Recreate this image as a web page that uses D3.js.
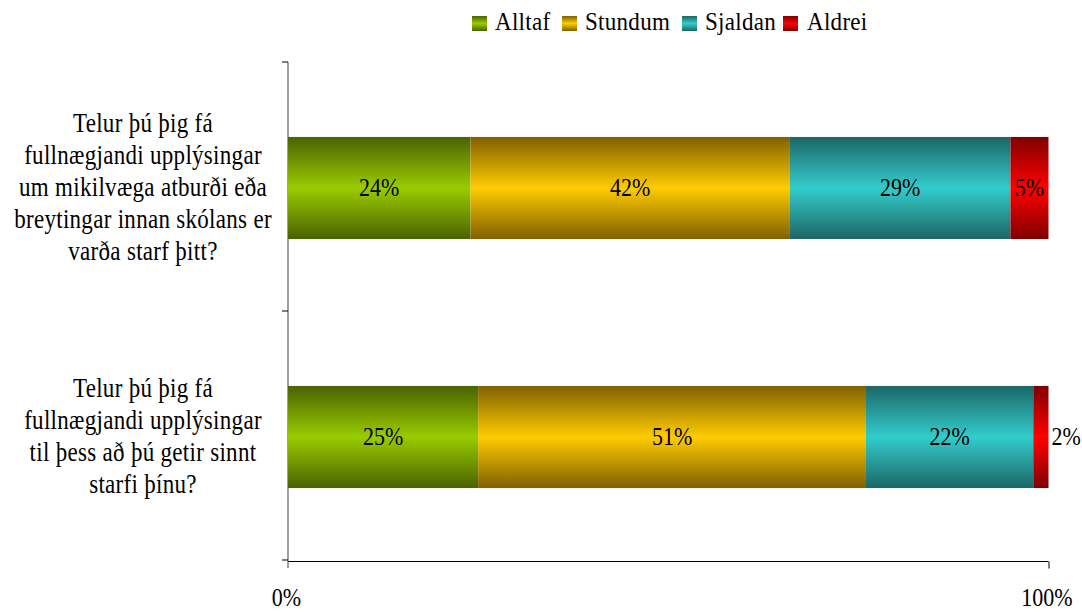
<!DOCTYPE html>
<html><head><meta charset="utf-8">
<script src="https://cdn.jsdelivr.net/npm/d3@7"></script>
<style>body{margin:0;background:#fff}svg{display:block}text{font-family:"Liberation Serif","Times New Roman",serif;fill:#000}</style>
</head><body>
<script>
const categories = [
  ["Telur þú þig fá","fullnægjandi upplýsingar","um mikilvæga atburði eða","breytingar innan skólans er","varða starf þitt?"],
  ["Telur þú þig fá","fullnægjandi upplýsingar","til þess að þú getir sinnt","starfi þínu?"]
];
const seriesNames = ["Alltaf","Stundum","Sjaldan","Aldrei"];
const alltaf = [24, 25];
const stundum = [42, 51];
const sjaldan = [29, 22];
const aldrei = [5, 2];
const tickLabels = ["0%","100%"];
const seriesValues = [alltaf, stundum, sjaldan, aldrei];
const colorsMid = ["#99cc00","#ffcc00","#33cccc","#ff0000"];
const colorsEdge = ["#4a6200","#7f6000","#1d6666","#800000"];

const W=1082,H=612;
const svg=d3.select("body").append("svg").attr("width",W).attr("height",H);
const defs=svg.append("defs");
seriesNames.forEach((n,i)=>{
  const g=defs.append("linearGradient").attr("id","g"+i).attr("x1",0).attr("y1",0).attr("x2",0).attr("y2",1);
  g.append("stop").attr("offset","0%").attr("stop-color",colorsEdge[i]);
  g.append("stop").attr("offset","50%").attr("stop-color",colorsMid[i]);
  g.append("stop").attr("offset","100%").attr("stop-color",colorsEdge[i]);
});
function stext(parent, x, y, size, sy, str, anchor, ls){
  return parent.append("text").attr("transform",`translate(${x},${y}) scale(1,${sy})`)
    .attr("font-size",size+"px").attr("text-anchor",anchor||"start")
    .attr("letter-spacing",ls||0).text(str);
}
const x=d3.scaleLinear().domain([0,100]).range([288,1048.5]);
const y=d3.scaleBand().domain(d3.range(categories.length)).range([63.5,561.5]).paddingInner(0.59).paddingOuter(0.295);

svg.append("line").attr("x1",288).attr("x2",288).attr("y1",62).attr("y2",568).attr("stroke","#808080").attr("stroke-width",1.5);
[62,311,560].forEach(v=>svg.append("line").attr("x1",282).attr("x2",288).attr("y1",v).attr("y2",v).attr("stroke","#000"));
const xAxis=d3.axisBottom(x).tickValues([0,100]).tickSize(7).tickFormat("");
const ax=svg.append("g").attr("transform","translate(0,561.5)").call(xAxis);
ax.select(".domain").attr("d","M288,0H1048.5").attr("stroke","#000");
ax.selectAll(".tick line").attr("stroke","#000");
ax.selectAll(".tick:first-of-type line").remove();
[0,100].forEach((v,i)=>stext(svg, x(v)-1.5, 606, 22, 1.13, tickLabels[i], "middle"));

categories.forEach((c,ci)=>{
  let acc=0;
  seriesValues.forEach((vals,si)=>{
    const v=vals[ci];
    const x0=x(acc),x1=x(acc+v);
    svg.append("rect").attr("x",x0).attr("y",y(ci)).attr("width",x1-x0).attr("height",y.bandwidth()).attr("fill",`url(#g${si})`);
    const small=(x1-x0)<25;
    stext(svg, small? x1+3 : (x0+x1)/2, y(ci)+y.bandwidth()/2+8, 22, 1.12, v+"%", small?"start":"middle");
    acc+=v;
  });
  const lh=32;
  const n=c.length;
  const cy=y(ci)+y.bandwidth()/2;
  c.forEach((line,li)=>{
    stext(svg, 143, cy+(li-(n-1)/2)*lh+8, 23, 1.17, line, "middle", 0.3);
  });
});

const lx=[472,562,682,783];
const tx=[495,585,705,807];
seriesNames.forEach((n,i)=>{
  svg.append("rect").attr("x",lx[i]).attr("y",16).attr("width",15).attr("height",15).attr("fill",`url(#g${i})`);
  stext(svg, tx[i], 29.5, 23, 1.13, n, "start", 0.3);
});
</script>
</body></html>
